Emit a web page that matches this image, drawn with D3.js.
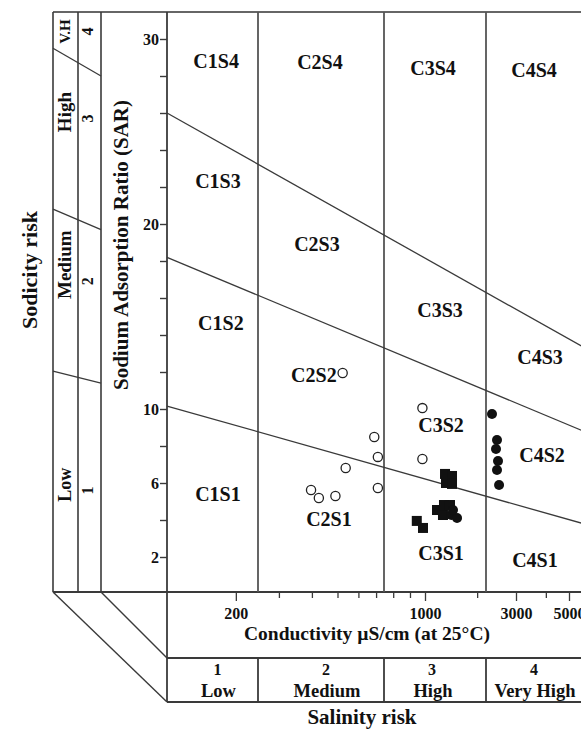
<!DOCTYPE html>
<html>
<head>
<meta charset="utf-8">
<script src="https://cdn.jsdelivr.net/npm/d3@7"></script>
<style>
  body { margin: 0; background: #fff; }
  svg text { font-family: "Liberation Serif", "DejaVu Serif", serif; font-weight: bold; fill: #111; }
</style>
</head>
<body>
<svg id="chart"></svg>
<script>
// salinity classes (EC boundaries, µS/cm) and sodicity lines (SAR at EC ends)
const salinityBounds = [250, 750, 2250];
const salinityNums = ["1", "2", "3", "4"];
const salinityNames = ["Low", "Medium", "High", "Very High"];
const sodiumLines = [
    [[100, 10.16], [6000, 3.73]],
    [[100, 18.2], [6000, 8.7]],
    [[100, 26.0], [6000, 13.2]]
];

// zone labels
const zoneNames = ["C1S4", "C2S4", "C3S4", "C4S4", "C1S3", "C2S3", "C3S3", "C4S3",
                   "C1S2", "C2S2", "C3S2", "C4S2", "C1S1", "C2S1", "C3S1", "C4S1"];
const zoneEC =  [164, 429, 1112, 3570, 167, 418, 1221, 3780, 172, 407, 1237, 3855, 167, 464, 1237, 3601];
const zoneSAR = [28.7, 28.6, 28.3, 28.2, 22.2, 18.8, 15.2, 12.7, 14.5, 11.7, 9.0, 7.4, 5.3, 3.9, 2.1, 1.7];

// samples
const openEC =  [523, 689, 711, 537, 711, 397, 425, 491, 982, 982];
const openSAR = [11.95, 8.49, 7.41, 6.81, 5.73, 5.62, 5.19, 5.30, 10.05, 7.30];
const squareEC =  [1305, 1432, 1322, 1432, 1173, 1270, 1287, 1394, 944, 986];
const squareSAR = [6.49, 6.38, 6.0, 5.95, 4.54, 4.27, 4.81, 4.81, 3.95, 3.57];
const dotEC =  [1420, 1531, 1451, 2383, 2500, 2476, 2525, 2500, 2550];
const dotSAR = [4.27, 4.11, 4.54, 9.73, 8.32, 7.84, 7.19, 6.70, 5.89];

// axis ticks
const yTicks = d3.range(2, 31, 2);
const yLabels = [30, 20, 10, 6, 2];
const xTicks = [200, 300, 400, 500, 600, 700, 800, 900, 1000, 2000, 3000, 4000, 5000];
const xLabels = [200, 1000, 3000, 5000];

// sodicity risk column (left panel)
const sodBandSAR = [[29.5, 28.0], [20.8, 19.7], [12.05, 11.4]];
const sodNames = ["V.H", "High", "Medium", "Low"];
const sodNums = ["4", "3", "2", "1"];
const sodNameSAR = [30.4, 26.05, 17.8, 5.9];
const sodNumSAR = [30.4, 25.7, 16.9, 5.6];

const W = 581, H = 730;
const colA = 53, colB = 78, colC = 101;
const plotLeft = 167, plotTop = 12, plotBottom = 592, condBottom = 658, salBottom = 702, plotRight = 600;
const ink = "#3a3a3a";

const svg = d3.select("#chart").attr("width", W).attr("height", H);

// drawn axis is not a clean log scale, calibrate it piecewise
const x = d3.scaleLog()
    .domain([100, 250, 750, 1000, 2250, 3000, 5000, 6000])
    .range([plotLeft, 258, 384, 425, 486, 516, 569, 588]);
const y = d3.scaleLinear().domain([0, 30]).range([594, 39]);

const g = svg.append("g").attr("stroke", ink).attr("fill", "none");

// frame
g.append("line").attr("x1", colA).attr("x2", plotRight).attr("y1", plotTop).attr("y2", plotTop).attr("stroke-width", 2.2).attr("stroke", "#666");
[colA, colB, colC].forEach(cx => {
    g.append("line").attr("x1", cx).attr("x2", cx).attr("y1", plotTop).attr("y2", plotBottom).attr("stroke-width", 1.6);
});
g.append("line").attr("x1", plotLeft).attr("x2", plotLeft).attr("y1", plotTop).attr("y2", salBottom).attr("stroke-width", 1.8);
g.append("line").attr("x1", colA).attr("x2", plotRight).attr("y1", plotBottom).attr("y2", plotBottom).attr("stroke-width", 1.8);
g.append("line").attr("x1", plotLeft).attr("x2", plotRight).attr("y1", condBottom).attr("y2", condBottom).attr("stroke-width", 1.8);
g.append("line").attr("x1", plotLeft).attr("x2", plotRight).attr("y1", salBottom).attr("y2", salBottom).attr("stroke-width", 1.8);
g.append("line").attr("x1", colA).attr("x2", plotLeft).attr("y1", plotBottom).attr("y2", salBottom).attr("stroke-width", 1.4);
g.append("line").attr("x1", colC).attr("x2", plotLeft).attr("y1", plotBottom).attr("y2", condBottom).attr("stroke-width", 1.4);

// salinity class boundaries
salinityBounds.forEach(b => {
    g.append("line").attr("x1", x(b)).attr("x2", x(b)).attr("y1", plotTop).attr("y2", plotBottom).attr("stroke-width", 1.8).attr("stroke", "#555");
    g.append("line").attr("x1", x(b)).attr("x2", x(b)).attr("y1", condBottom).attr("y2", salBottom).attr("stroke-width", 1.8);
});

// sodium hazard lines
const line = d3.line().x(d => x(d[0])).y(d => y(d[1]));
sodiumLines.forEach(l => {
    g.append("path").attr("d", line(l)).attr("stroke-width", 1.3);
});
sodBandSAR.forEach(b => {
    g.append("line").attr("x1", colA).attr("x2", colC).attr("y1", y(b[0])).attr("y2", y(b[1])).attr("stroke-width", 1.3);
});

// axes
const yAxis = d3.axisLeft(y).tickValues(yTicks).tickSize(7)
    .tickFormat(d => yLabels.includes(d) ? d : "");
const yAxisG = svg.append("g").attr("transform", `translate(${plotLeft},0)`).call(yAxis);
yAxisG.select(".domain").remove();
yAxisG.selectAll("line").attr("stroke", ink).attr("stroke-width", 1.4);
yAxisG.selectAll("text").style("font-size", "16px").attr("x", -8).attr("fill", "#111");

const xAxis = d3.axisBottom(x).tickValues(xTicks)
    .tickSize(6).tickFormat(d => xLabels.includes(d) ? d : "");
const xAxisG = svg.append("g").attr("transform", `translate(0,${plotBottom})`).call(xAxis);
xAxisG.select(".domain").remove();
xAxisG.selectAll(".tick line").attr("stroke", ink).attr("stroke-width", 1.3)
    .attr("y2", d => xLabels.includes(d) ? 9 : 6);
xAxisG.selectAll("text").style("font-size", "16px").attr("y", 16).attr("fill", "#111");

// zone labels
svg.append("g").selectAll("text").data(zoneNames).join("text")
    .attr("x", (d, i) => x(zoneEC[i]))
    .attr("y", (d, i) => y(zoneSAR[i]))
    .attr("text-anchor", "middle").attr("dominant-baseline", "middle")
    .style("font-size", "20px")
    .text(d => d);

// samples
const pts = svg.append("g");
pts.selectAll("circle.open").data(openEC).join("circle").attr("class", "open")
    .attr("cx", d => x(d)).attr("cy", (d, i) => y(openSAR[i])).attr("r", 4.6)
    .attr("fill", "#fff").attr("stroke", "#222").attr("stroke-width", 1.3);
pts.selectAll("rect.sq").data(squareEC).join("rect").attr("class", "sq")
    .attr("x", d => x(d) - 5).attr("y", (d, i) => y(squareSAR[i]) - 5)
    .attr("width", 10).attr("height", 10).attr("fill", "#111");
pts.selectAll("circle.dot").data(dotEC).join("circle").attr("class", "dot")
    .attr("cx", d => x(d)).attr("cy", (d, i) => y(dotSAR[i])).attr("r", 5)
    .attr("fill", "#111");

// left sodicity panel
const midName = (colA + colB) / 2 + 1, midNum = (colB + colC) / 2;
const nameSize = [15, 19, 19, 18];
sodNames.forEach((n, i) => {
    svg.append("text").attr("transform", `translate(${midName},${y(sodNameSAR[i])}) rotate(-90)`)
        .attr("text-anchor", "middle").attr("dominant-baseline", "middle")
        .style("font-size", nameSize[i] + "px").text(n);
    svg.append("text").attr("transform", `translate(${midNum},${y(sodNumSAR[i])}) rotate(-90)`)
        .attr("text-anchor", "middle").attr("dominant-baseline", "middle")
        .style("font-size", "16px").text(sodNums[i]);
});

svg.append("text").attr("transform", `translate(123,245) rotate(-90)`)
    .attr("text-anchor", "middle").attr("dominant-baseline", "middle")
    .style("font-size", "21px").text("Sodium Adsorption Ratio (SAR)");
svg.append("text").attr("transform", `translate(32,270) rotate(-90)`)
    .attr("text-anchor", "middle").attr("dominant-baseline", "middle")
    .style("font-size", "22px").text("Sodicity risk");

// bottom labels
svg.append("text").attr("x", 367).attr("y", 640).attr("text-anchor", "middle")
    .style("font-size", "19.5px").text("Conductivity µS/cm (at 25°C)");
svg.append("text").attr("x", 362).attr("y", 724).attr("text-anchor", "middle")
    .style("font-size", "21px").text("Salinity risk");

const salEdges = [100].concat(salinityBounds, [6000]);
const salMid = salinityNums.map((n, i) => (x(salEdges[i]) + x(salEdges[i + 1])) / 2);
salinityNums.forEach((n, i) => {
    svg.append("text").attr("x", salMid[i] + (i < 2 ? 5 : -3)).attr("y", 675).attr("text-anchor", "middle")
        .style("font-size", "16px").text(n);
    svg.append("text").attr("x", salMid[i] + (i < 2 ? 6 : -2)).attr("y", 697).attr("text-anchor", "middle")
        .style("font-size", "18.5px").text(salinityNames[i]);
});
</script>
</body>
</html>
